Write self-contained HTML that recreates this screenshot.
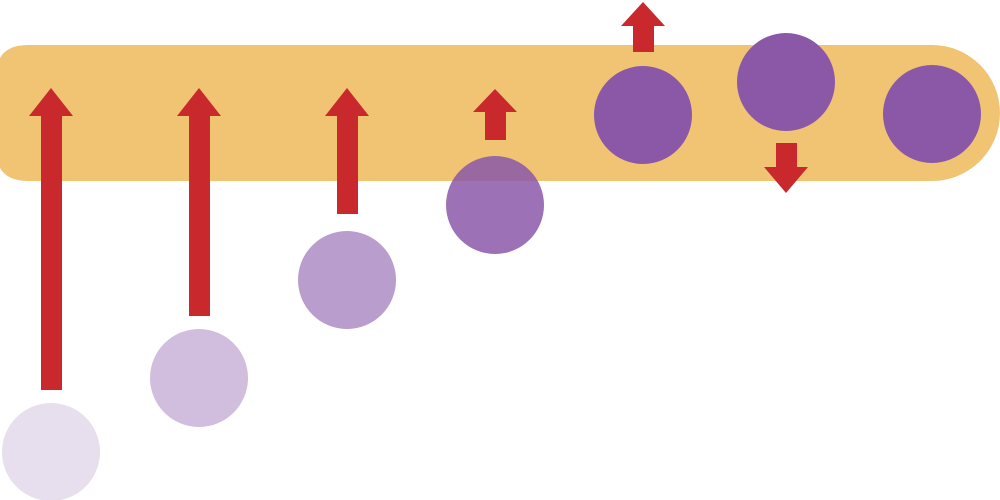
<!DOCTYPE html>
<html><head><meta charset="utf-8"><style>html,body{margin:0;padding:0;background:#fff;width:1000px;height:500px;overflow:hidden}</style></head>
<body>
<svg width="1000" height="500" viewBox="0 0 1000 500" xmlns="http://www.w3.org/2000/svg">
<path d="M28,45 H932 A68,68 0 0 1 932,181 H28 Q-4,181 -4,150 V76 Q-4,45 28,45 Z" fill="#f0c473"/>
<g fill="#c9282d">
<rect x="41" y="114" width="21" height="276"/><polygon points="29,116 51,88 73,116"/>
<rect x="189" y="114" width="21" height="202"/><polygon points="177,116 199,88 221,116"/>
<rect x="337" y="114" width="21" height="100"/><polygon points="325,116 347,88 369,116"/>
<rect x="485" y="110" width="21" height="30"/><polygon points="473,112 495,89 517,112"/>
<rect x="633" y="24" width="21" height="28"/><polygon points="621,26 643,2 665,26"/>
<rect x="776" y="143" width="21" height="26"/><polygon points="764,167 786,193 808,167"/>
</g>
<circle cx="51" cy="452" r="49" fill="#e8dfee"/>
<circle cx="199" cy="378" r="49" fill="#d1bedf"/>
<circle cx="347" cy="280" r="49" fill="#b99dcd"/>
<circle cx="495" cy="205" r="49" fill="#8b58a8" fill-opacity="0.85"/>
<circle cx="643" cy="115" r="49" fill="#8b58a8"/>
<circle cx="786" cy="82" r="49" fill="#8b58a8"/>
<circle cx="932" cy="114" r="49" fill="#8b58a8"/>
</svg>
</body></html>
